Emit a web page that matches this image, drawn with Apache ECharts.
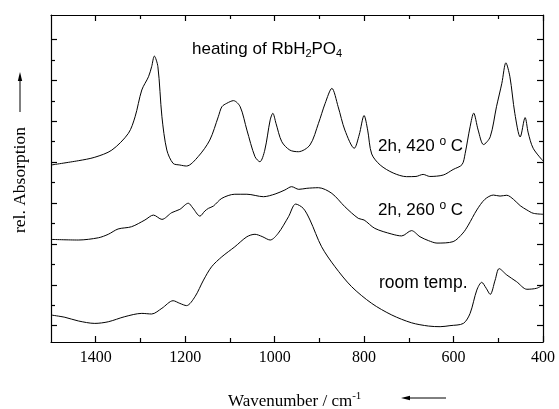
<!DOCTYPE html>
<html>
<head>
<meta charset="utf-8">
<script src="https://cdn.jsdelivr.net/npm/echarts@6/dist/echarts.min.js"></script>
<style>
  html, body { margin: 0; padding: 0; background: #fff; }
  #chart { width: 559px; height: 409px; }
</style>
</head>
<body>
<div id="chart"></div>
<script>
// wavenumbers (cm-1) and rel. absorption
const wn420 = [1500, 1439, 1402, 1364, 1327, 1312, 1297, 1282, 1275, 1269, 1261, 1252, 1241, 1227, 1212, 1197, 1171, 1145, 1126, 1118, 1107, 1092, 1077, 1062, 1044, 1033, 1022, 1010, 1004, 997, 984, 966, 947, 921, 902, 887, 872, 858, 843, 822, 811, 800, 792, 783, 764, 735, 705, 684, 668, 653, 623, 601, 581, 574, 563, 555, 545, 533, 518, 504, 492, 483, 474, 463, 451, 440, 433, 422, 400];
const abs420 = [8.66, 8.87, 9.04, 9.39, 10.21, 11.02, 12.33, 12.98, 13.47, 13.99, 13.47, 11.02, 9.39, 8.74, 8.66, 8.61, 9.07, 9.88, 11.02, 11.51, 11.68, 11.81, 11.51, 10.37, 9.07, 8.82, 9.39, 10.86, 11.19, 10.70, 9.80, 9.39, 9.31, 9.64, 10.70, 11.68, 12.41, 11.51, 10.37, 9.48, 10.13, 11.08, 10.37, 9.20, 8.66, 8.27, 8.09, 8.10, 8.20, 8.10, 8.17, 8.44, 8.68, 9.23, 10.53, 11.20, 10.37, 9.66, 10.04, 11.51, 12.66, 13.66, 12.98, 11.19, 10.03, 10.98, 10.23, 9.48, 8.86];

const wn260 = [1500, 1439, 1394, 1372, 1350, 1320, 1290, 1271, 1252, 1230, 1212, 1193, 1183, 1167, 1156, 1148, 1137, 1118, 1089, 1062, 1025, 999, 977, 962, 946, 928, 902, 872, 843, 813, 800, 776, 738, 716, 694, 675, 656, 637, 601, 579, 567, 548, 530, 511, 496, 481, 466, 451, 436, 422, 400];
const abs260 = [5.02, 4.99, 5.10, 5.27, 5.53, 5.64, 5.97, 6.21, 6.00, 6.33, 6.49, 6.79, 6.56, 6.16, 6.41, 6.54, 6.65, 7.03, 7.23, 7.23, 7.11, 7.24, 7.44, 7.60, 7.47, 7.52, 7.55, 7.27, 6.62, 6.05, 5.97, 5.56, 5.28, 5.19, 5.45, 5.15, 4.96, 4.84, 4.91, 5.33, 5.72, 6.46, 6.98, 7.19, 7.14, 7.18, 6.98, 6.67, 6.46, 6.30, 6.25];

const wnRT = [1500, 1469, 1439, 1402, 1372, 1335, 1297, 1275, 1252, 1227, 1212, 1197, 1178, 1159, 1141, 1118, 1089, 1062, 1044, 1028, 1010, 992, 969, 953, 936, 921, 895, 865, 828, 783, 738, 694, 656, 630, 608, 578, 563, 548, 537, 527, 518, 507, 498, 481, 459, 436, 414, 400];
const absRT = [1.32, 1.21, 1.03, 0.91, 0.99, 1.24, 1.40, 1.37, 1.65, 2.02, 1.89, 1.78, 2.22, 3.03, 3.68, 4.17, 4.66, 5.15, 5.27, 5.16, 4.99, 5.32, 6.13, 6.75, 6.54, 5.97, 4.66, 3.68, 2.71, 1.89, 1.32, 0.94, 0.78, 0.75, 0.80, 0.91, 1.40, 2.54, 2.92, 2.63, 2.33, 3.03, 3.59, 3.28, 2.95, 2.58, 2.63, 2.79];

// tick positions
const xMajor = [400, 600, 800, 1000, 1200, 1400];
const xMinor = [500, 700, 900, 1100, 1300];
const yMajor = [0.8, 2.8, 4.8, 6.8, 8.8, 10.8, 12.8, 14.8];
const yMinor = [1.8, 3.8, 5.8, 7.8, 9.8, 11.8, 13.8];

const zip = (xs, ys) => xs.map((x, i) => [x, ys[i]]);

var chart = echarts.init(document.getElementById("chart"));

const serif = "Liberation Serif";
const sans = "Liberation Sans";

function xAx(pos, ticks, len, showLine, showLabel) {
  return {
    type: "value",
    position: pos,
    inverse: true,
    min: 400,
    max: 1500,
    axisLine: { show: showLine, onZero: false, lineStyle: { color: "#000", width: 1.2 } },
    axisTick: { show: true, inside: true, length: len, customValues: ticks, lineStyle: { color: "#000", width: 1.2 } },
    axisLabel: {
      show: showLabel, customValues: ticks, color: "#000", fontFamily: serif, fontSize: 16, margin: 8,
      formatter: (v) => String(v),
    },
    splitLine: { show: false },
  };
}
function yAx(pos, ticks, len, showLine) {
  return {
    type: "value",
    position: pos,
    min: 0,
    max: 16,
    axisLine: { show: showLine, onZero: false, lineStyle: { color: "#000", width: 1.2 } },
    axisTick: { show: true, inside: true, length: len, customValues: ticks, lineStyle: { color: "#000", width: 1.2 } },
    axisLabel: { show: false },
    splitLine: { show: false },
  };
}

function line(wn, ab) {
  return {
    type: "line",
    xAxisIndex: 0,
    yAxisIndex: 0,
    data: zip(wn, ab),
    showSymbol: false,
    smooth: 0.3,
    lineStyle: { color: "#000", width: 1 },
    animation: false,
  };
}

var option = {
  animation: false,
  grid: { left: 51, right: 16, top: 15, bottom: 67 },
  xAxis: [
    xAx("bottom", xMajor, 6, true, true),
    xAx("bottom", xMinor, 4, false, false),
    xAx("top", xMajor, 6, true, false),
    xAx("top", xMinor, 4, false, false),
  ],
  yAxis: [
    yAx("left", yMajor, 6, true),
    yAx("left", yMinor, 4, false),
    yAx("right", yMajor, 6, true),
    yAx("right", yMinor, 4, false),
  ],
  series: [line(wn420, abs420), line(wn260, abs260), line(wnRT, absRT)],
  graphic: [
    {
      type: "text", left: 192, top: 41,
      style: {
        text: "heating of RbH{sub|2}PO{sub|4}",
        font: "17px " + sans, fill: "#000",
        rich: { sub: { fontSize: 11, fontFamily: sans, padding: [9, 0, 0, 0] } },
      },
    },
    {
      type: "text", left: 378, top: 136,
      style: {
        text: "2h, 420 {sup|o} C",
        font: "17px " + sans, fill: "#000",
        rich: { sup: { fontSize: 12, fontFamily: sans, padding: [0, 0, 9, 0] } },
      },
    },
    {
      type: "text", left: 378, top: 200,
      style: {
        text: "2h, 260 {sup|o} C",
        font: "17px " + sans, fill: "#000",
        rich: { sup: { fontSize: 12, fontFamily: sans, padding: [0, 0, 9, 0] } },
      },
    },
    {
      type: "text", left: 379, top: 274,
      style: { text: "room temp.", font: "17.5px " + sans, fill: "#000" },
    },
    {
      type: "text", left: 228, top: 391,
      style: {
        text: "Wavenumber / cm{sup|-1}",
        font: "17px " + serif, fill: "#000",
        rich: { sup: { fontSize: 11, fontFamily: serif, padding: [0, 0, 10, 0] } },
      },
    },
    {
      type: "text", x: 20, y: 180, rotation: Math.PI / 2,
      style: { text: "rel. Absorption", font: "17.5px " + serif, fill: "#000", align: "center", verticalAlign: "middle" },
    },
    // arrows
    { type: "line", shape: { x1: 20, y1: 112, x2: 20, y2: 78 }, style: { stroke: "#000", lineWidth: 1 } },
    { type: "polygon", shape: { points: [[20, 72], [17.8, 81], [22.2, 81]] }, style: { fill: "#000" } },
    { type: "line", shape: { x1: 446, y1: 398, x2: 407, y2: 398 }, style: { stroke: "#000", lineWidth: 1 } },
    { type: "polygon", shape: { points: [[401, 398], [410, 395.8], [410, 400.2]] }, style: { fill: "#000" } },
  ],
};

chart.setOption(option);
</script>
</body>
</html>
